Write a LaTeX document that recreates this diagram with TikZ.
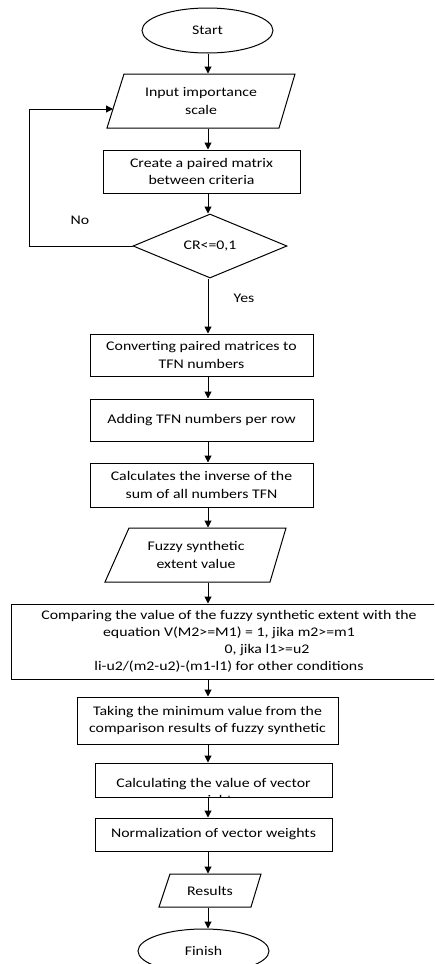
\documentclass[tikz,border=0pt]{standalone}
\usepackage{fontspec}
\setmainfont{Carlito}[FakeStretch=1.2]
\usetikzlibrary{shapes.geometric,arrows.meta}
\begin{document}
\begin{tikzpicture}[x=1pt,y=-1pt, line width=1pt,
  font=\fontsize{13.2}{17.2}\selectfont,
  box/.style={draw, rectangle, align=center, inner sep=0pt},
  term/.style={draw, ellipse, inner sep=0pt},
  plain/.style={align=center, inner sep=0pt},
  arr/.style={-{Triangle[length=7pt,width=7pt]}},
  lbl/.style={inner sep=0pt}]
\useasboundingbox (0,0) rectangle (434,964);
\fill[white] (0,0) rectangle (434,964);
\clip (0,0) rectangle (434,964);
\coordinate (ax) at (208,0);
\coordinate (fbx) at (29,0);

\node[term, minimum width=131pt, minimum height=45pt] (start) at (207.5,30.5) {Start};

\node[plain, minimum width=171pt, minimum height=54pt] (inp) at (201,101) {Input importance\\scale};
\draw (124,74) -- (295,74) -- (279,128) -- (107,128) -- cycle;
\coordinate (inpL) at (113,109);

\node[box, minimum width=197pt, minimum height=43pt] (mat) at (201.5,171.5) {Create a paired matrix\\between criteria};

\node[draw, diamond, aspect=2.4, minimum width=154pt, minimum height=64pt, inner sep=0pt] (cr) at (210,246) {CR<=0,1};

\node[box, minimum width=223pt, minimum height=42pt] (conv) at (201.5,355) {Converting paired matrices to\\TFN numbers};
\node[box, minimum width=223pt, minimum height=42pt] (add) at (201.5,420) {Adding TFN numbers per row};
\node[box, minimum width=223pt, minimum height=44pt] (inv) at (201.5,485) {Calculates the inverse of the\\sum of all numbers TFN};

\node[plain, minimum width=160pt, minimum height=54pt] (fse) at (196,555) {Fuzzy synthetic\\extent value};
\draw (129,528) -- (286,528) -- (270,582) -- (105,582) -- cycle;

\node[box, minimum width=436pt, minimum height=75pt] (cmp) at (229,641.5) {Comparing the value of the fuzzy synthetic extent with the\\equation V(M2>=M1) = 1, jika m2>=m1\\\hspace*{76pt}0, jika l1>=u2\\li-u2/(m2-u2)-(m1-l1) for other conditions};

\node[box, minimum width=261pt, minimum height=47pt] (min) at (207.5,720.5) {Taking the minimum value from the\\comparison results of fuzzy synthetic};

\node[box, minimum width=237pt, minimum height=34pt] (vec) at (213.5,780) {};
\begin{scope}
\clip (vec.north west) rectangle (vec.south east);
\node[plain] (vectxt) at (213.5,792.5) {Calculating the value of vector\\weights};
\end{scope}

\node[box, minimum width=237pt, minimum height=33pt] (norm) at (213.5,834.5) {Normalization of vector weights};

\node[plain, minimum width=92pt, minimum height=33pt] (res) at (210,890.5) {Results};
\draw (170,874) -- (261,874) -- (251,907) -- (159,907) -- cycle;

\node[term, minimum width=131pt, minimum height=44pt] (fin) at (203.5,951) {Finish};

\node[lbl] (no) at (80,220) {No};
\node[lbl] (yes) at (244,298) {Yes};

\draw[arr] (start.south -| ax) -- (inp.north -| ax);
\draw[arr] (inp.south -| ax) -- (mat.north -| ax);
\draw[arr] (mat.south -| ax) -- (cr.north -| ax);
\draw[arr] (cr.south -| ax) -- (conv.north -| ax);
\draw[arr] (conv.south -| ax) -- (add.north -| ax);
\draw[arr] (add.south -| ax) -- (inv.north -| ax);
\draw[arr] (inv.south -| ax) -- (fse.north -| ax);
\draw[arr] (fse.south -| ax) -- (cmp.north -| ax);
\draw[arr] (cmp.south -| ax) -- (min.north -| ax);
\draw[arr] (min.south -| ax) -- (vec.north -| ax);
\draw[arr] (vec.south -| ax) -- (norm.north -| ax);
\draw[arr] (norm.south -| ax) -- (res.north -| ax);
\draw[arr] (res.south -| ax) -- (fin.north -| ax);
\draw[arr] (cr.west) -- (cr.west -| fbx) |- (inpL);
\end{tikzpicture}
\end{document}
